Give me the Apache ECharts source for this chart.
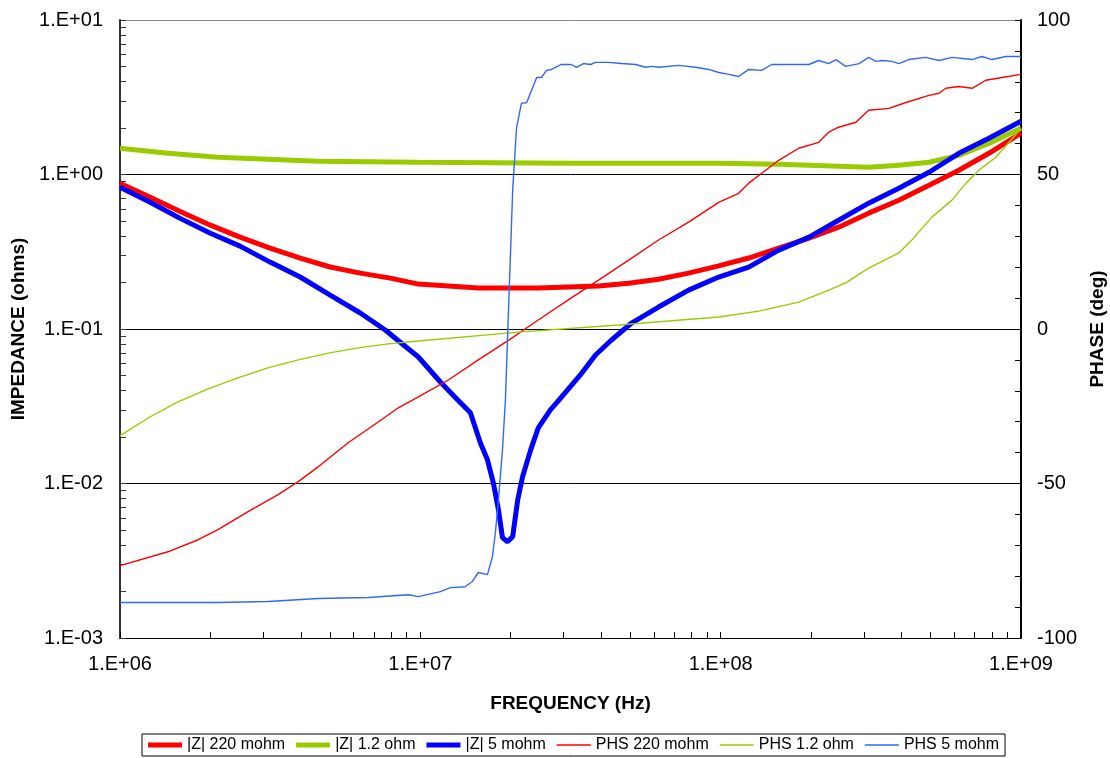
<!DOCTYPE html>
<html>
<head>
<meta charset="utf-8">
<script src="https://cdn.jsdelivr.net/npm/echarts@6/dist/echarts.min.js"></script>
<style>
html,body{margin:0;padding:0;background:#fff;}
#chart{width:1110px;height:758px;}
</style>
</head>
<body>
<div id="chart"></div>
<script>
// ---- data ----
const seriesNames = ['|Z| 220 mohm', '|Z| 1.2 ohm', '|Z| 5 mohm', 'PHS 220 mohm', 'PHS 1.2 ohm', 'PHS 5 mohm'];

const freqZ220 = [1e6,1.26e6,1.58e6,2.0e6,2.51e6,3.16e6,3.98e6,5.01e6,6.31e6,7.94e6,9.85e6,1.24e7,1.56e7,1.97e7,2.47e7,3.11e7,3.92e7,4.94e7,6.21e7,7.82e7,9.85e7,1.24e8,1.56e8,1.97e8,2.47e8,3.11e8,3.92e8,4.94e8,6.21e8,7.82e8,1e9];
const z220 = [0.878,0.713,0.579,0.470,0.393,0.334,0.288,0.252,0.230,0.2135,0.1953,0.190,0.184,0.184,0.184,0.187,0.190,0.198,0.210,0.230,0.256,0.288,0.334,0.387,0.456,0.562,0.681,0.852,1.065,1.372,1.85];

const freqZ12 = [1e6,1.445e6,2.12e6,3.11e6,4.57e6,9.85e6,3.11e7,9.85e7,1.56e8,2.47e8,3.11e8,3.92e8,4.94e8,6.21e8,7.82e8,1e9];
const z12 = [1.478,1.372,1.293,1.254,1.218,1.2,1.182,1.182,1.165,1.131,1.114,1.148,1.2,1.331,1.59,1.99];

const freqZ5 = [1e6,1.26e6,1.58e6,2.0e6,2.51e6,3.16e6,3.98e6,5.01e6,6.31e6,7.64e6,9.85e6,1.166e7,1.33e7,1.468e7,1.585e7,1.673e7,1.75e7,1.82e7,1.877e7,1.95e7,2.03e7,2.11e7,2.19e7,2.33e7,2.47e7,2.71e7,2.86e7,3.41e7,3.83e7,4.33e7,5.05e7,6.21e7,7.82e7,9.85e7,1.24e8,1.56e8,1.97e8,2.47e8,3.11e8,3.92e8,4.94e8,6.21e8,7.82e8,1e9];
const z5 = [0.827,0.662,0.522,0.417,0.344,0.271,0.217,0.1658,0.1269,0.0985,0.0659,0.0454,0.0348,0.0287,0.0183,0.01423,0.0101,0.00677,0.00446,0.0042,0.00453,0.00785,0.01105,0.0165,0.0229,0.030,0.0338,0.0504,0.0679,0.0849,0.1093,0.1387,0.1786,0.217,0.2516,0.324,0.393,0.506,0.652,0.815,1.034,1.372,1.715,2.21];

const freqP220 = [1e6,1.445e6,1.82e6,2.12e6,2.67e6,3.36e6,3.92e6,4.57e6,5.75e6,7.24e6,8.45e6,9.85e6,1.24e7,1.56e7,1.97e7,2.47e7,3.11e7,3.92e7,4.94e7,6.21e7,7.82e7,9.85e7,1.148e8,1.24e8,1.37e8,1.56e8,1.82e8,2.12e8,2.29e8,2.47e8,2.82e8,3.11e8,3.63e8,4.14e8,4.94e8,5.33e8,5.62e8,6.21e8,6.87e8,7.64e8,8.64e8,1e9];
const p220 = [-76.6,-72.1,-68.2,-64.9,-59.1,-53.6,-49.4,-44.6,-36.8,-30.1,-25.5,-22.0,-16.5,-10.0,-3.6,2.9,9.4,15.8,22.3,28.8,34.6,41.0,43.9,47.2,50.4,54.6,58.5,60.4,63.7,65.3,66.9,70.8,71.4,73.3,75.6,76.3,77.9,78.5,77.9,80.5,81.4,82.4];

const freqP12 = [1e6,1.24e6,1.56e6,1.966e6,2.47e6,3.11e6,3.92e6,4.94e6,6.21e6,7.82e6,9.85e6,2.12e7,4.57e7,9.85e7,1.339e8,1.82e8,2.29e8,2.61e8,3.11e8,3.92e8,4.33e8,5.05e8,5.89e8,6.56e8,7.24e8,8.25e8,1e9];
const p12 = [-34.6,-28.8,-23.6,-19.4,-15.8,-12.6,-10.0,-7.8,-6.1,-4.8,-3.9,-1.0,1.3,3.9,5.8,8.7,12.6,14.9,19.7,24.6,28.8,36.2,41.7,47.2,51.4,55.6,64.9];

const freqP5 = [1e6,2.12e6,3.11e6,4.57e6,6.71e6,9.12e6,9.85e6,1.166e7,1.259e7,1.41e7,1.49e7,1.56e7,1.673e7,1.738e7,1.778e7,1.82e7,1.877e7,1.92e7,2.03e7,2.09e7,2.17e7,2.26e7,2.44e7,2.53e7,2.63e7,2.73e7,2.95e7,3.18e7,3.31e7,3.49e7,3.69e7,3.83e7,4.23e7,4.68e7,5.21e7,5.62e7,5.89e7,6.21e7,7.24e7,8.25e7,9.12e7,9.85e7,1.063e8,1.148e8,1.24e8,1.37e8,1.48e8,1.725e8,1.966e8,2.12e8,2.29e8,2.42e8,2.61e8,2.89e8,3.11e8,3.29e8,3.44e8,3.72e8,3.92e8,4.23e8,4.82e8,5.33e8,5.89e8,6.87e8,7.41e8,8.0e8,8.91e8,1e9];
const p5 = [-88.5,-88.5,-88.2,-87.2,-86.9,-86.0,-86.6,-85.0,-83.7,-83.4,-81.7,-78.8,-79.5,-73.7,-65.9,-55.3,-39.1,-22.9,44.9,64.9,73.0,73.3,81.4,81.4,83.7,84.0,85.6,85.6,84.7,85.9,85.6,86.3,86.3,85.9,85.6,84.7,85.0,84.7,85.3,84.7,84.0,83.0,82.4,81.7,84.0,83.7,85.6,85.6,85.6,86.9,85.9,87.2,85.0,85.9,87.9,86.6,86.9,86.6,85.9,87.2,87.9,86.9,87.9,87.2,88.2,87.2,88.2,88.2];

// axis tick labels
const xLabelValues = [1e6, 1e7, 1e8, 1e9];
const yLeftLabelValues = [1e-3, 1e-2, 1e-1, 1e0, 1e1];
const yRightLabelValues = [-100, -50, 0, 50, 100];

// minor tick positions (1..9 per decade)
function decadeTicks(lo, hi) {
  const out = [];
  for (let e = lo; e < hi; e++) {
    for (let m = 1; m <= 9; m++) out.push(+(m + 'e' + e));
  }
  out.push(+('1e' + hi));
  return out;
}
const xTickValues = decadeTicks(6, 9);
const yLeftTickValues = decadeTicks(-3, 1);
const yRightTickValues = [];
for (let v = -100; v <= 100; v += 10) yRightTickValues.push(v);

function pairs(xs, ys) {
  const n = Math.min(xs.length, ys.length);
  const out = [];
  for (let i = 0; i < n; i++) out.push([xs[i], ys[i]]);
  return out;
}
function sci(v) {
  const e = Math.round(Math.log10(v));
  return '1.E' + (e < 0 ? '-' : '+') + String(Math.abs(e)).padStart(2, '0');
}

const FONT = 'Arial, "Liberation Sans", sans-serif';
const RED = '#FF0000', GREEN = '#99CC00', BLUE = '#0000FF', LBLUE = '#3366FF';

const thickIcon = 'path://M0,0L34,0L34,5L0,5Z';
const thinIcon = 'path://M0,0L34,0L34,1.4L0,1.4Z';

const chart = echarts.init(document.getElementById('chart'), null, {renderer: 'canvas'});
chart.setOption({
  animation: false,
  backgroundColor: '#fff',
  textStyle: {fontFamily: FONT},
  grid: {left: 120, right: 89, top: 20, bottom: 120, outerBoundsMode: 'none', containLabel: false},
  legend: {
    left: 142, top: 734,
    orient: 'horizontal',
    itemWidth: 34, itemHeight: 12, itemGap: 11,
    padding: [3, 6],
    borderColor: '#000', borderWidth: 1,
    textStyle: {fontFamily: FONT, fontSize: 16, color: '#000'},
    data: [
      {name: seriesNames[0], icon: thickIcon},
      {name: seriesNames[1], icon: thickIcon},
      {name: seriesNames[2], icon: thickIcon},
      {name: seriesNames[3], icon: thinIcon},
      {name: seriesNames[4], icon: thinIcon},
      {name: seriesNames[5], icon: thinIcon}
    ]
  },
  xAxis: {
    type: 'log', logBase: 10, min: 1e6, max: 1e9,
    name: 'FREQUENCY (Hz)', nameLocation: 'middle', nameGap: 56,
    nameTextStyle: {fontFamily: FONT, fontSize: 19, fontWeight: 'bold', color: '#000'},
    axisLine: {show: true, onZero: false, lineStyle: {color: '#000', width: 1}},
    axisTick: {show: true, inside: true, length: 6, customValues: xTickValues, lineStyle: {color: '#000'}},
    axisLabel: {customValues: xLabelValues, formatter: sci, margin: 16, fontSize: 20, color: '#000', fontFamily: FONT},
    splitLine: {show: false},
    minorTick: {show: false}
  },
  yAxis: [
    {
      type: 'log', logBase: 10, min: 1e-3, max: 10, position: 'left',
      name: 'IMPEDANCE (ohms)', nameLocation: 'middle', nameRotate: 90, nameGap: 91,
      nameTextStyle: {fontFamily: FONT, fontSize: 19, fontWeight: 'bold', color: '#000'},
      axisLine: {show: true, onZero: false, lineStyle: {color: '#333', width: 2}},
      axisTick: {show: true, inside: true, length: 6, customValues: yLeftTickValues, lineStyle: {color: '#333'}},
      axisLabel: {customValues: yLeftLabelValues, formatter: sci, margin: 17, fontSize: 20, color: '#000', fontFamily: FONT},
      splitLine: {show: false}
    },
    {
      type: 'value', min: -100, max: 100, interval: 50, position: 'right',
      name: 'PHASE (deg)', nameLocation: 'middle', nameRotate: 90, nameGap: 67,
      nameTextStyle: {fontFamily: FONT, fontSize: 19, fontWeight: 'bold', color: '#000'},
      axisLine: {show: true, onZero: false, lineStyle: {color: '#000', width: 2}},
      axisTick: {show: true, inside: true, length: 6, customValues: yRightTickValues, lineStyle: {color: '#000'}},
      axisLabel: {customValues: yRightLabelValues, margin: 16, fontSize: 20, color: '#000', fontFamily: FONT},
      splitLine: {show: false}
    },
    {
      // helper axis: only draws the horizontal decade grid lines
      type: 'value', min: 0, max: 4, interval: 1, position: 'left',
      axisLine: {show: false}, axisTick: {show: false}, axisLabel: {show: false},
      splitLine: {show: true, lineStyle: {color: ['#000', '#000', '#000', '#000', '#888'], width: 1}}
    }
  ],
  series: [
    {name: seriesNames[0], type: 'line', yAxisIndex: 0, showSymbol: false, symbol: 'none', color: RED,
     lineStyle: {color: RED, width: 5}, data: pairs(freqZ220, z220)},
    {name: seriesNames[1], type: 'line', yAxisIndex: 0, showSymbol: false, symbol: 'none', color: GREEN,
     lineStyle: {color: GREEN, width: 5}, data: pairs(freqZ12, z12)},
    {name: seriesNames[2], type: 'line', yAxisIndex: 0, showSymbol: false, symbol: 'none', color: BLUE,
     lineStyle: {color: BLUE, width: 5}, data: pairs(freqZ5, z5)},
    {name: seriesNames[3], type: 'line', yAxisIndex: 1, showSymbol: false, symbol: 'none', color: RED,
     lineStyle: {color: RED, width: 1.4}, data: pairs(freqP220, p220)},
    {name: seriesNames[4], type: 'line', yAxisIndex: 1, showSymbol: false, symbol: 'none', color: GREEN,
     lineStyle: {color: GREEN, width: 1.4}, data: pairs(freqP12, p12)},
    {name: seriesNames[5], type: 'line', yAxisIndex: 1, showSymbol: false, symbol: 'none', color: LBLUE,
     lineStyle: {color: LBLUE, width: 1.4}, data: pairs(freqP5, p5)}
  ]
});
</script>
</body>
</html>
